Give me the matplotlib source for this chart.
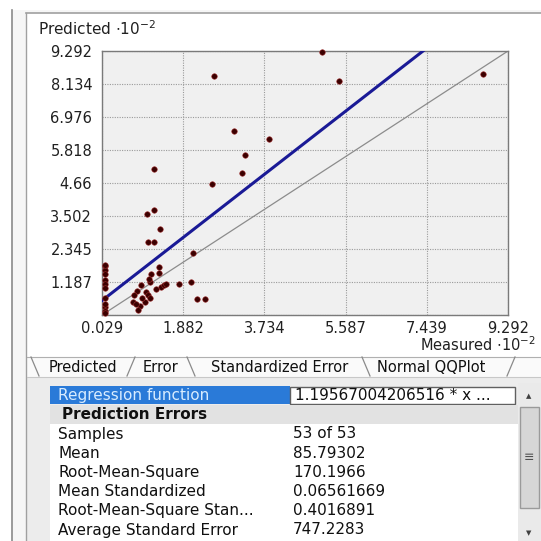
import matplotlib
matplotlib.use('Agg')
import matplotlib.pyplot as plt
from matplotlib.patches import Rectangle
import numpy as np

# ---------------- data (units of 10^-2) ----------------
measured = [5.05, 5.44, 2.59, 3.03, 3.84, 8.73,
            3.29, 3.22, 2.53, 1.21, 1.21, 1.05, 1.35,
            1.08, 1.22, 2.11,
            0.09, 0.09, 0.09, 0.09, 0.09, 0.09, 0.09, 0.09, 0.09,
            1.32, 1.15, 1.32, 1.12, 1.38, 1.44, 0.93, 1.79, 2.05, 0.83,
            1.04, 0.77, 1.08, 1.12, 1.00, 0.74, 0.89, 0.85, 2.20, 2.37,
            0.09, 0.09, 0.09, 1.10, 0.95, 1.25, 1.50, 0.80]
predicted = [9.25, 8.25, 8.43, 6.49, 6.20, 8.50,
             5.65, 5.02, 4.64, 5.14, 3.72, 3.57, 3.06,
             2.58, 2.58, 2.19,
             1.75, 1.61, 1.47, 1.26, 1.12, 0.98, 0.63, 0.31, 0.17,
             1.72, 1.46, 1.49, 1.18, 1.02, 1.08, 1.08, 1.11, 1.18, 0.88,
             0.85, 0.73, 0.73, 0.61, 0.50, 0.50, 0.34, 0.20, 0.58, 0.58,
             0.10, 0.40, 1.80, 1.30, 0.62, 0.95, 1.12, 0.40]

x_ticks = [0.029, 1.882, 3.734, 5.587, 7.439, 9.292]
x_tick_labels = ["0.029", "1.882", "3.734", "5.587", "7.439", "9.292"]
y_ticks = [0.029, 1.187, 2.345, 3.502, 4.66, 5.818, 6.976, 8.134, 9.292]
y_tick_labels = ["", "1.187", "2.345", "3.502", "4.66", "5.818", "6.976", "8.134", "9.292"]
axis_min, axis_max = 0.029, 9.292

reg_slope = 1.19567004206516
reg_intercept = 0.5

tab_labels = ["Predicted", "Error", "Standardized Error", "Normal QQPlot"]
stat_names = ["Samples", "Mean", "Root-Mean-Square", "Mean Standardized",
              "Root-Mean-Square Stan...", "Average Standard Error"]
stat_values = ["53 of 53", "85.79302", "170.1966", "0.06561669",
               "0.4016891", "747.2283"]
regression_text = "1.19567004206516 * x ..."

# ---------------- figure & pixel-space background ----------------
W = H = 541
fig = plt.figure(figsize=(5.41, 5.41), dpi=100)
fig.patch.set_facecolor('white')
bg = fig.add_axes([0, 0, 1, 1])
bg.set_xlim(0, W)
bg.set_ylim(H, 0)
bg.axis('off')

UI = 'DejaVu Sans'
TFS = 11  # table font size

# outer frame
bg.add_patch(Rectangle((12, 10), W - 12, H - 10, facecolor='#f6f6f6', edgecolor='none'))
bg.plot([12, 12], [10, H], color='#8a8a8a', lw=1.2)
# chart panel (white)
bg.add_patch(Rectangle((27, 13), W - 27, 344, facecolor='white', edgecolor='none'))
bg.plot([26, 26], [13, H], color='#a0a0a0', lw=1.0)
bg.plot([26, W], [13, 13], color='#a0a0a0', lw=1.2)

# axis titles
bg.text(38, 35, r"Predicted $\cdot$10$^{-2}$", fontsize=11, family=UI,
        color='#202020', ha='left', va='baseline')
bg.text(536, 351, r"Measured $\cdot$10$^{-2}$", fontsize=10.5, family=UI,
        color='#202020', ha='right', va='baseline')

# tab strip
bg.add_patch(Rectangle((27, 357), W - 27, 20, facecolor='#fafafa', edgecolor='none'))
bg.plot([27, W], [357, 357], color='#b0b0b0', lw=0.8)
tab_edges = [(31, 39, 357, 376), (135, 127, 357, 376), (187, 195, 357, 376),
             (362, 370, 357, 376), (515, 507, 357, 376)]
for xa, xb, ya, yb in tab_edges:
    bg.plot([xa, xb], [ya, yb], color='#8a8a8a', lw=0.9)
tab_x = [83, 161, 280, 431]
for lab, tx in zip(tab_labels, tab_x):
    bg.text(tx, 367, lab, fontsize=10.5, family=UI, color='#101010',
            ha='center', va='center')

# property grid
bg.add_patch(Rectangle((27, 377), W - 27, H - 377, facecolor='#ececec', edgecolor='none'))
bg.plot([27, W], [377, 377], color='#c8c8c8', lw=0.8)
bg.add_patch(Rectangle((50, 386), 240, 18, facecolor='#2a7ad8', edgecolor='none'))
bg.text(58, 395.5, "Regression function", fontsize=TFS, family=UI,
        color='#d8ecff', ha='left', va='center')
bg.add_patch(Rectangle((290, 387), 225, 17, facecolor='white', edgecolor='#606060', lw=1.0))
bg.text(295, 395.5, regression_text, fontsize=TFS, family=UI,
        color='#101010', ha='left', va='center')
bg.add_patch(Rectangle((50, 405), 468, 19, facecolor='#e2e2e2', edgecolor='none'))
bg.text(62, 414.5, "Prediction Errors", fontsize=TFS, family=UI,
        weight='bold', color='#101010', ha='left', va='center')
bg.add_patch(Rectangle((50, 424), 468, H - 424, facecolor='white', edgecolor='none'))
row_y0, row_h = 434, 19.2
for i, (nm, val) in enumerate(zip(stat_names, stat_values)):
    yy = row_y0 + i * row_h
    bg.text(58, yy, nm, fontsize=TFS, family=UI, color='#101010', ha='left', va='center')
    bg.text(293, yy, val, fontsize=TFS, family=UI, color='#101010', ha='left', va='center')

# scrollbar
bg.add_patch(Rectangle((518, 383), 23, H - 383, facecolor='#eaeaea', edgecolor='none'))
bg.text(529, 396, "\u25b2", fontsize=5, color='#404040', ha='center', va='center')
bg.add_patch(Rectangle((519.5, 407), 19, 101, facecolor='#d6d6d6', edgecolor='#9a9a9a', lw=1.0))
bg.text(529, 458, "\u2261", fontsize=9, color='#505050', ha='center', va='center')
bg.text(529, 533, "\u25bc", fontsize=5, color='#404040', ha='center', va='center')

# ---------------- chart axes ----------------
ax = fig.add_axes([102 / W, 1 - 315 / H, 406 / W, 264 / H])
ax.set_facecolor('#f0f0f0')
ax.set_xlim(axis_min, axis_max)
ax.set_ylim(axis_min, axis_max)
ax.set_xticks(x_ticks)
ax.set_xticklabels(x_tick_labels)
ax.set_yticks(y_ticks)
ax.set_yticklabels(y_tick_labels)
ax.tick_params(length=0, labelsize=10.5, labelcolor='#202020')
ax.tick_params(axis='x', pad=4)
ax.tick_params(axis='y', pad=7)
for lab in ax.get_xticklabels() + ax.get_yticklabels():
    lab.set_family(UI)
ax.grid(True, linestyle=(0, (1, 1.2)), color='#9a9a9a', lw=0.8)
ax.set_axisbelow(True)
for sp in ax.spines.values():
    sp.set_color('#7a7a7a')
    sp.set_linewidth(1.0)

lx = np.array([axis_min, axis_max])
ax.plot(lx, lx, color='#8c8c8c', lw=0.9, zorder=2)
ax.plot(lx, reg_slope * lx + reg_intercept, color='#1a1a96', lw=2.2, zorder=3)
ax.scatter(measured, predicted, s=16, c='#3c0000', edgecolors='#a03030',
           linewidths=0.4, zorder=4, clip_on=False)

fig.savefig('out.png', dpi=100)
